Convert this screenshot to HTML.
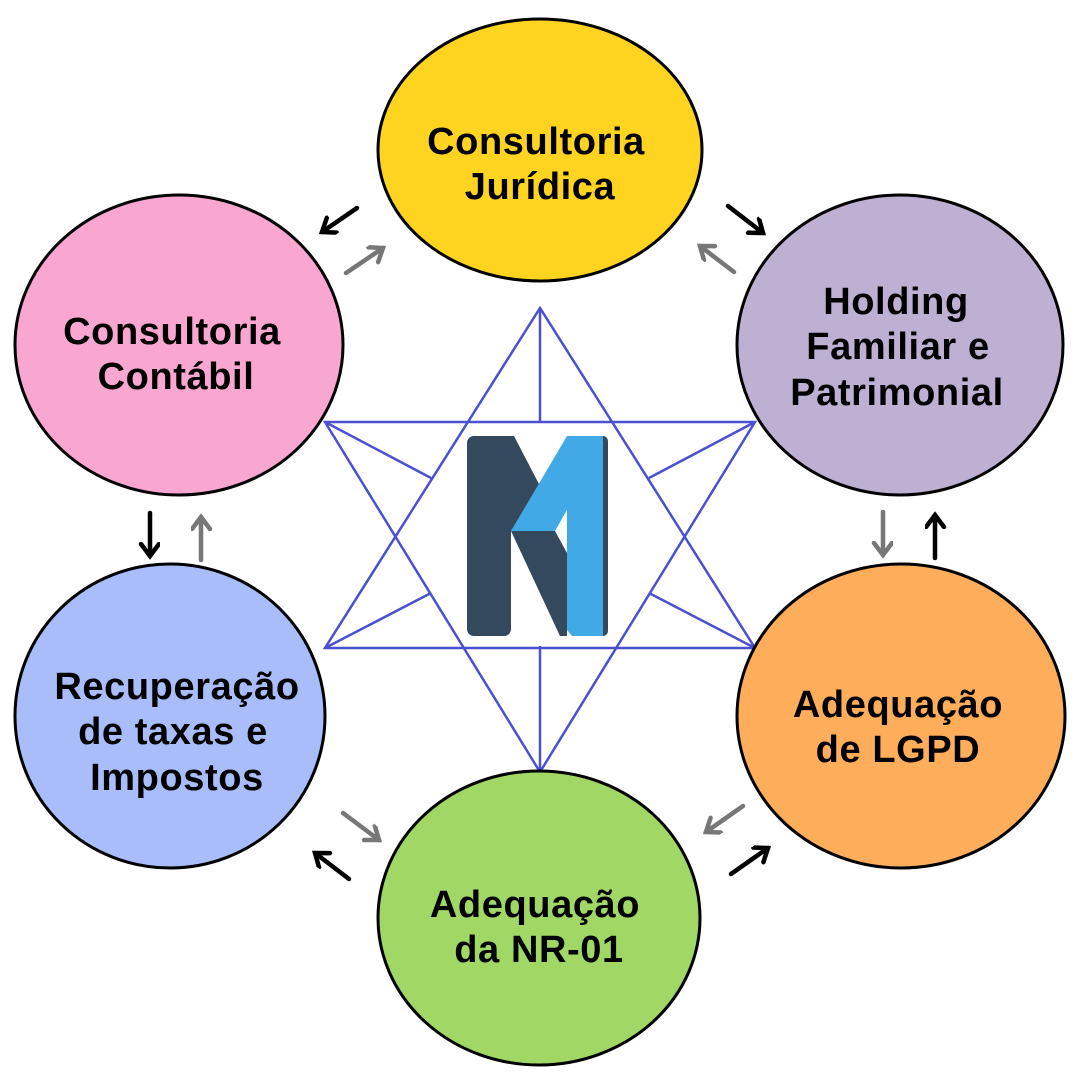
<!DOCTYPE html>
<html><head><meta charset="utf-8"><style>
html,body{margin:0;padding:0;background:#fff;}
svg{display:block;}
text{font-family:"Liberation Sans","DejaVu Sans",sans-serif;font-weight:bold;font-size:38px;letter-spacing:0.6px;fill:#000;text-anchor:middle;}
</style></head><body>
<svg width="1080" height="1080" viewBox="0 0 1080 1080" xmlns="http://www.w3.org/2000/svg">
<defs>
<marker id="hb" markerUnits="userSpaceOnUse" markerWidth="30" markerHeight="30" refX="14" refY="10" orient="auto">
<path d="M2,1 L14,10 L2,19" fill="none" stroke="#000" stroke-width="4.5" stroke-linecap="round" stroke-linejoin="miter"/></marker>
<marker id="hg" markerUnits="userSpaceOnUse" markerWidth="30" markerHeight="30" refX="14" refY="10" orient="auto">
<path d="M2,1 L14,10 L2,19" fill="none" stroke="#777" stroke-width="4.5" stroke-linecap="round" stroke-linejoin="miter"/></marker>
</defs>
<rect width="1080" height="1080" fill="#fff"/>
<g stroke="#4a50d0" stroke-width="2.5" fill="none">
<polygon points="540,308 325,648 755,648"/>
<polygon points="325,422 755,422 540,772"/>
<line x1="540" y1="308" x2="540" y2="422"/>
<line x1="540" y1="646" x2="540" y2="772"/>
<line x1="325" y1="422" x2="431" y2="478"/>
<line x1="755" y1="422" x2="649" y2="478"/>
<line x1="325" y1="648" x2="431" y2="593"/>
<line x1="755" y1="648" x2="649" y2="593"/>
</g>
<rect x="467" y="436" width="44" height="200" rx="7" fill="#34495e"/>
<polygon points="505,436 514,436 540,486 511,531 505,531" fill="#34495e"/>
<rect x="595" y="436" width="13" height="200" rx="5" fill="#34495e"/>
<polygon points="511,531 555,531 567,553 567,636 560,636" fill="#34495e"/>
<polygon points="511,531 567,436 603,436 603,636 572,636 567,630 567,510 555,531" fill="#41aae6"/>
<g stroke="#000" stroke-width="3">
<ellipse cx="540" cy="150" rx="162" ry="131" fill="#fed421"/>
<ellipse cx="179" cy="345" rx="164" ry="150" fill="#f9a7d1"/>
<ellipse cx="900" cy="345" rx="163" ry="150" fill="#bdb0d2"/>
<ellipse cx="170" cy="716" rx="155" ry="152" fill="#a9bdfb"/>
<ellipse cx="901" cy="716" rx="164" ry="152" fill="#fead5b"/>
<ellipse cx="539" cy="918" rx="161" ry="147" fill="#a1d765"/>
</g>
<text x="536" y="154">Consultoria</text>
<text x="540" y="199">Jurídica</text>
<text x="172" y="344">Consultoria</text>
<text x="176" y="389">Contábil</text>
<text x="896" y="314">Holding</text>
<text x="898" y="359">Familiar e</text>
<text x="897" y="405">Patrimonial</text>
<text x="177" y="699">Recuperação</text>
<text x="173" y="744">de taxas e</text>
<text x="177" y="790">Impostos</text>
<text x="898" y="717">Adequação</text>
<text x="898" y="762">de LGPD</text>
<text x="535" y="917">Adequação</text>
<text x="539" y="962">da NR-01</text>
<g stroke-width="4.5" stroke-linecap="round" fill="none">
<line x1="357" y1="208" x2="322" y2="232" stroke="#000" marker-end="url(#hb)"/>
<line x1="346" y1="273" x2="383" y2="248" stroke="#777" marker-end="url(#hg)"/>
<line x1="728" y1="206" x2="763" y2="233" stroke="#000" marker-end="url(#hb)"/>
<line x1="734" y1="272" x2="700" y2="246" stroke="#777" marker-end="url(#hg)"/>
<line x1="150" y1="513" x2="150" y2="556" stroke="#000" marker-end="url(#hb)"/>
<line x1="201" y1="560" x2="201" y2="517" stroke="#777" marker-end="url(#hg)"/>
<line x1="883" y1="512" x2="883" y2="555" stroke="#777" marker-end="url(#hg)"/>
<line x1="935" y1="558" x2="935" y2="515" stroke="#000" marker-end="url(#hb)"/>
<line x1="343" y1="813" x2="379" y2="840" stroke="#777" marker-end="url(#hg)"/>
<line x1="349" y1="879" x2="315" y2="853" stroke="#000" marker-end="url(#hb)"/>
<line x1="743" y1="806" x2="706" y2="832" stroke="#777" marker-end="url(#hg)"/>
<line x1="731" y1="874" x2="768" y2="848" stroke="#000" marker-end="url(#hb)"/>
</g>
</svg>
</body></html>
